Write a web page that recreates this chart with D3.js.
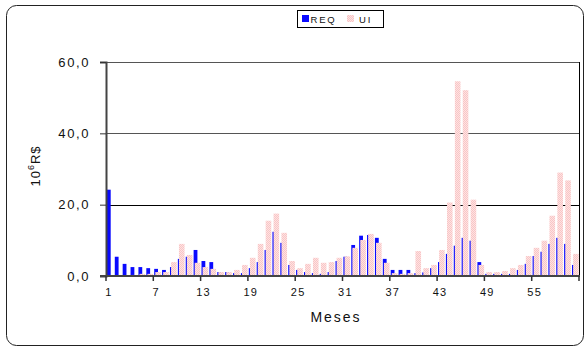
<!DOCTYPE html>
<html>
<head>
<meta charset="utf-8">
<style>
    body { margin: 0; background: #fff; }
    svg text { font-family: "Liberation Sans", Arial, sans-serif; fill: #111; }
    .tick text { letter-spacing: 1.6px; }
</style>
</head>
<body>
<svg width="588" height="351"></svg>
<script src="https://d3js.org/d3.v7.min.js"></script>
<script>

    // months 1..60
    var months = d3.range(1, 61);

    var req = [24.2, 5.4, 3.4, 2.5, 2.5, 2.2, 2.0, 1.7, 2.5, 4.8,
               5.4, 7.3, 4.2, 3.9, 1.1, 1.1, 0.8, 0.8, 2.2, 3.9,
               7.3, 12.4, 9.3, 3.1, 1.7, 1.1, 0.8, 0.6, 1.1, 4.2,
               5.4, 8.7, 11.3, 11.5, 10.7, 4.8, 1.7, 1.7, 1.7, 0.8,
               1.0, 2.2, 3.9, 6.2, 8.5, 10.7, 9.9, 3.9, 0.6, 0.6,
               0.6, 0.6, 1.7, 3.4, 5.6, 6.8, 9.0, 10.7, 9.0, 3.1];

    var ui = [0, 0, 0, 0.3, 0.6, 0.6, 1.1, 1.1, 3.9, 9.0,
              5.9, 3.7, 2.5, 2.0, 1.1, 1.1, 1.7, 3.1, 5.1, 9.0,
              15.5, 17.5, 12.1, 4.2, 2.2, 3.4, 5.1, 3.7, 3.9, 5.1,
              5.5, 7.9, 10.1, 11.8, 9.3, 3.7, 0.8, 0.6, 0.8, 7.0,
              2.2, 3.1, 7.3, 20.6, 54.6, 52.1, 21.4, 3.1, 1.1, 1.1,
              1.4, 2.2, 3.1, 5.6, 7.9, 9.9, 16.9, 29.0, 26.8, 6.2];

    var yTicks = [0, 20, 40, 60];
    var xLabels = [1, 7, 13, 19, 25, 31, 37, 43, 49, 55];

    var svg = d3.select("svg");
    var plotL = 106, plotR = 579, plotT = 62, plotB = 276;

    // pink dotted fill like the excel pattern
    var defs = svg.append("defs");
    var pat = defs.append("pattern").attr("id", "dots")
        .attr("width", 2).attr("height", 2).attr("patternUnits", "userSpaceOnUse");
    pat.append("rect").attr("width", 2).attr("height", 2).attr("fill", "#ffe2e2");
    pat.append("rect").attr("width", 1).attr("height", 1).attr("fill", "#f7c6c6");
    pat.append("rect").attr("x", 1).attr("y", 1).attr("width", 1).attr("height", 1).attr("fill", "#f7c6c6");

    // outer frame
    svg.append("rect")
        .attr("x", 6.5).attr("y", 5.5).attr("width", 577).attr("height", 340)
        .attr("rx", 10).attr("fill", "none").attr("stroke", "#222").attr("stroke-width", 1);

    var x = d3.scaleBand().domain(months).range([plotL, plotR]).padding(0);
    var y = d3.scaleLinear().domain([0, 60]).range([plotB, plotT]);

    // gridlines
    svg.append("g").selectAll("line").data(yTicks.slice(1)).join("line")
        .attr("x1", plotL).attr("x2", plotR)
        .attr("y1", function (d) { return Math.round(y(d)) + 0.5; })
        .attr("y2", function (d) { return Math.round(y(d)) + 0.5; })
        .attr("stroke", function (d) { return d == 20 ? "#000" : "#555"; })
        .attr("stroke-width", 1);

    // right border
    svg.append("line").attr("x1", plotR + 0.5).attr("x2", plotR + 0.5)
        .attr("y1", plotT).attr("y2", plotB).attr("stroke", "#000");

    var bw = x.bandwidth();

    svg.append("g").selectAll("rect").data(req).join("rect")
        .attr("x", function (d, i) { return x(months[i]) + 0.9; })
        .attr("width", 3.8)
        .attr("y", function (d) { return y(d); })
        .attr("height", function (d) { return plotB - y(d); })
        .attr("fill", "#0a0aff");

    svg.append("g").selectAll("rect").data(ui).join("rect")
        .attr("x", function (d, i) { return x(months[i]) + 2; })
        .attr("width", 5.6)
        .attr("y", function (d) { return y(d); })
        .attr("height", function (d) { return plotB - y(d); })
        .attr("fill", "url(#dots)");

    // y axis
    var yAxis = svg.append("g").attr("transform", "translate(" + plotL + ",0)")
        .call(d3.axisLeft(y).tickValues(yTicks).tickSize(6).tickPadding(10)
            .tickFormat(function (d) { return d3.format(".1f")(d).replace(".", ","); }));
    yAxis.select(".domain").attr("stroke", "#444").attr("stroke-width", 2);
    yAxis.selectAll(".tick line").attr("stroke", "#333");
    yAxis.selectAll(".tick text").attr("font-size", 13).attr("fill", "#111");

    // x axis: ticks every 6 months at band edges, labels centred on months
    var xAxis = svg.append("g").attr("transform", "translate(0," + plotB + ")");
    xAxis.append("line").attr("x1", plotL - 6).attr("x2", plotR + 1)
        .attr("stroke", "#444").attr("stroke-width", 2);
    xAxis.selectAll(".xt").data(d3.range(0, 61, 6)).join("line")
        .attr("x1", function (d) { return plotL + d * bw; })
        .attr("x2", function (d) { return plotL + d * bw; })
        .attr("y1", 0).attr("y2", 5).attr("stroke", "#333").attr("stroke-width", 1.5);
    xAxis.selectAll("text").data(xLabels).join("text")
        .attr("x", function (d) { return x(d) + bw / 2 - 1; })
        .attr("y", 20)
        .attr("text-anchor", "middle")
        .attr("font-size", 11)
        .attr("letter-spacing", "1.2px")
        .text(function (d) { return d; });

    svg.append("text").attr("x", 336).attr("y", 322)
        .attr("text-anchor", "middle").attr("font-size", 14).attr("letter-spacing", "2px")
        .text("Meses");

    var yl = svg.append("text").attr("transform", "translate(40,166) rotate(-90)")
        .attr("text-anchor", "middle").attr("font-size", 13).attr("letter-spacing", "1px");
    yl.append("tspan").text("10");
    yl.append("tspan").attr("dy", -6).attr("font-size", 9).text("6");
    yl.append("tspan").attr("dy", 6).text("R$");

    // legend
    var lg = svg.append("g").attr("transform", "translate(297,10)");
    lg.append("rect").attr("x", 0.5).attr("y", 0.5).attr("width", 86).attr("height", 17)
        .attr("fill", "#fff").attr("stroke", "#000");
    lg.append("rect").attr("x", 5).attr("y", 5).attr("width", 7).attr("height", 7).attr("fill", "#0a0aff");
    lg.append("text").attr("x", 13.5).attr("y", 12.5).attr("font-size", 9.5).attr("letter-spacing", "1.8px").text("REQ");
    lg.append("rect").attr("x", 50).attr("y", 5).attr("width", 7).attr("height", 7).attr("fill", "url(#dots)");
    lg.append("text").attr("x", 62).attr("y", 12.5).attr("font-size", 9.5).attr("letter-spacing", "1.8px").text("UI");

</script>
</body>
</html>
